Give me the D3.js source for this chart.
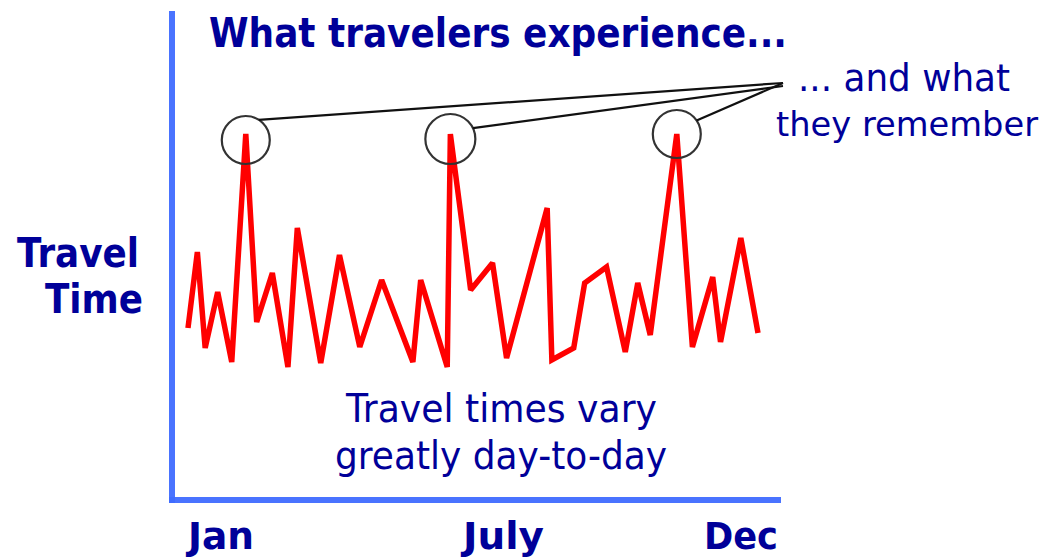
<!DOCTYPE html>
<html>
<head>
<meta charset="utf-8">
<script src="https://cdn.jsdelivr.net/npm/d3@7/dist/d3.min.js"></script>
<style>
  html, body { margin: 0; padding: 0; background: #fff; }
  svg { display: block; }
</style>
</head>
<body>
<div id="chart"></div>
<script>
// ---- Data ----
const days = [0, 6, 11, 19, 28, 37, 44, 54, 64, 70, 85, 97, 110, 124, 144, 149, 166, 168, 181, 195, 204, 230, 233, 247, 254, 268, 280, 288, 296, 313, 323, 336, 341, 354, 365];
const travelTime = [42.5, 61.5, 37.5, 51.5, 34, 91, 44, 56.25, 32.75, 67.5, 33.75, 60.75, 37.75, 54.5, 34, 54.5, 32.75, 91, 52, 58.75, 35, 72.5, 34.5, 37.5, 53.75, 57.75, 36.5, 53.75, 40.75, 91, 37.75, 55.25, 39, 65, 41.25];
const monthLabels = ["Jan", "July", "Dec"];
const rememberedIdx = [5, 17, 29];
const titleText = "What travelers experience...";
const calloutLines = ["... and what", "they remember"];
const yLabelLines = ["Travel", "Time"];
const noteLines = ["Travel times vary", "greatly day-to-day"];

// ---- Layout ----
const W = 1048, H = 558;
const navy = "#000099";
const svg = d3.select("#chart").append("svg").attr("width", W).attr("height", H);

const x = d3.scaleLinear().domain([0, 365]).range([188, 758]);
const y = d3.scaleLinear().domain([0, 100]).range([498, 98]);

// axes (L shape)
const axisColor = "#3f6cff";
svg.append("line").attr("x1", 172).attr("x2", 172).attr("y1", 11).attr("y2", 503)
  .attr("stroke", axisColor).attr("stroke-width", 6).attr("stroke-opacity", 0.95);
svg.append("line").attr("x1", 169).attr("x2", 781).attr("y1", 500).attr("y2", 500)
  .attr("stroke", axisColor).attr("stroke-width", 6).attr("stroke-opacity", 0.95);

function txt(s, xPos, yPos, len, size, weight, anchor) {
  return svg.append("text")
    .attr("x", xPos).attr("y", yPos)
    .attr("font-family", "'DejaVu Sans', Verdana, sans-serif")
    .attr("font-size", size).attr("font-weight", weight)
    .attr("fill", navy)
    .attr("textLength", len).attr("lengthAdjust", "spacingAndGlyphs")
    .attr("text-anchor", anchor || "start")
    .text(s);
}

txt(titleText, 209, 47, 578, 40, "bold");
txt(calloutLines[0], 798, 91, 212, 37, "normal");
txt(calloutLines[1], 776, 136, 262, 34, "normal");
txt(yLabelLines[0], 17, 267, 122, 41, "bold");
txt(yLabelLines[1], 45, 313, 98, 40, "bold");
txt(noteLines[0], 346, 422, 311, 39, "normal");
txt(noteLines[1], 335, 469, 332, 39, "normal");

// month labels
const monthX = [188, 463, 704];
const monthW = [66, 81, 74];
monthLabels.forEach((m, i) => txt(m, monthX[i], 549, monthW[i], 37, "bold"));

// line
const pts = days.map((d, i) => [d, travelTime[i]]);
const line = d3.line().x(d => x(d[0])).y(d => y(d[1]));
svg.append("path").datum(pts).attr("d", line)
  .attr("fill", "none").attr("stroke", "#ff0000").attr("stroke-width", 5.5)
  .attr("stroke-linejoin", "miter").attr("stroke-miterlimit", 2);

// callout circles and leader lines
const target = [783, 83];
const circR = [24, 25, 24];
const circDy = [6, 5, 0];
const startAng = [-1.0, -0.45, -0.6];
rememberedIdx.forEach((idx, i) => {
  const cx = x(days[idx]);
  const cy = y(travelTime[idx]) + circDy[i];
  svg.append("circle").attr("cx", cx).attr("cy", cy).attr("r", circR[i])
    .attr("fill", "none").attr("stroke", "#333").attr("stroke-width", 2.2);
  const sx = cx + circR[i] * Math.cos(startAng[i]);
  const sy = cy + circR[i] * Math.sin(startAng[i]);
  svg.append("line").attr("x1", sx).attr("y1", sy)
    .attr("x2", target[0]).attr("y2", target[1] + (i === 1 ? 3 : 0))
    .attr("stroke", "#111").attr("stroke-width", 2.2);
});
</script>
</body>
</html>
